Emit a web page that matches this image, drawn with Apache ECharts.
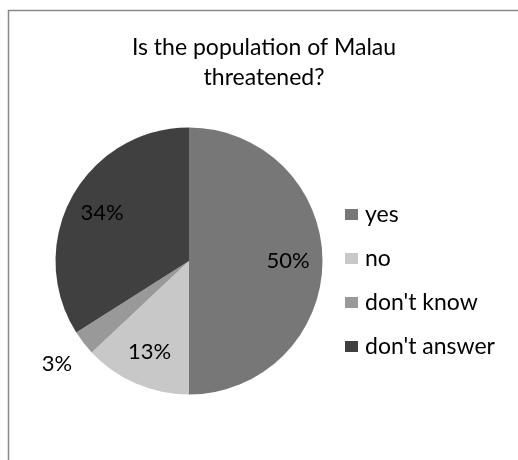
<!DOCTYPE html>
<html><head><meta charset="utf-8">
<script src="https://cdn.jsdelivr.net/npm/echarts@6/dist/echarts.min.js"></script>
<style>html,body{margin:0;padding:0;background:#fff}#c{width:518px;height:460px}</style>
</head><body><div id="c"></div>
<script>
const categories = ["yes", "no", "don't know", "don't answer"];
const values = [50, 13, 3, 34];
const colors = ["#777777", "#c8c8c8", "#999999", "#404040"];
const titleText = "Is the population of Malau\nthreatened?";

const FONT = "Lato, 'Open Sans', sans-serif";
const chart = echarts.init(document.getElementById('c'), null, {renderer: 'canvas'});
const center = [189, 261];
const R = 133.5;
const baseData = categories.map((n, i) => ({name: n, value: values[i], itemStyle: {color: colors[i]}}));
const insideData = categories.map((n, i) => ({
  name: n, value: values[i],
  label: {show: values[i] >= 10}
}));
const outsideData = categories.map((n, i) => ({
  name: n, value: values[i],
  label: {show: values[i] < 10}
}));
const lblStyle = {position: 'inside', formatter: p => p.value + '%', color: '#000', fontSize: 22, fontFamily: FONT};
chart.setOption({
  animation: false,
  title: {text: titleText, left: 259, top: 28, textAlign: 'center',
    textStyle: {fontSize: 23, fontWeight: 'normal', color: '#000', fontFamily: FONT, lineHeight: 30}},
  legend: {orient: 'vertical', left: 340, top: 198, itemWidth: 13, itemHeight: 11, itemGap: 21,
    icon: 'rect', data: categories,
    textStyle: {fontSize: 23, color: '#000', fontFamily: FONT, padding: [0, 0, 0, 2]}},
  graphic: [{type: 'rect', shape: {x: 8.5, y: 10.5, width: 540, height: 480},
    style: {fill: null, stroke: '#888', lineWidth: 1.5}, silent: true}],
  series: [
    {type: 'pie', center: center, radius: [0, R], startAngle: 90, clockwise: true,
     label: {show: false}, labelLine: {show: false}, data: baseData, silent: true},
    {type: 'pie', center: center, radius: [R * 0.44, R], startAngle: 90, clockwise: true,
     itemStyle: {color: 'rgba(0,0,0,0)'}, label: lblStyle, labelLine: {show: false},
     data: insideData, silent: true, legendHoverLink: false},
    {type: 'pie', center: center, radius: [R, R * 1.46], startAngle: 90, clockwise: true,
     itemStyle: {color: 'rgba(0,0,0,0)'}, label: lblStyle, labelLine: {show: false},
     data: outsideData, silent: true, legendHoverLink: false}
  ]
});
</script></body></html>
